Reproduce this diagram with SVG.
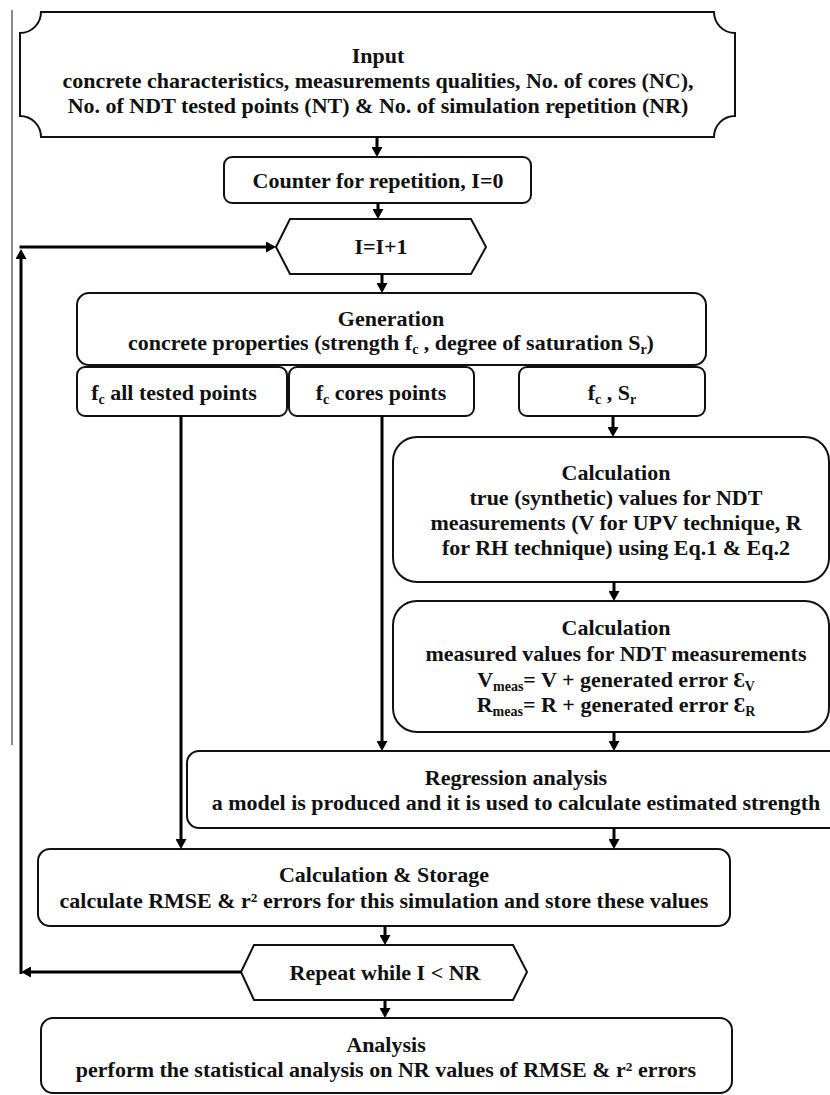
<svg xmlns="http://www.w3.org/2000/svg" width="830" height="1095" viewBox="0 0 830 1095">
<defs>
<style>
.box{fill:#fff;stroke:#111;stroke-width:2}
.t{font-family:"Liberation Serif","Times New Roman",serif;font-weight:bold;font-size:22px;fill:#111;text-anchor:middle}
.sub{font-size:14px}
.c{fill:none;stroke:#000;stroke-width:3}
</style>
<marker id="ah" markerUnits="userSpaceOnUse" markerWidth="10" markerHeight="11" viewBox="0 0 10 11" refX="1" refY="5.5" orient="auto">
<path d="M0,0 L10,5.5 L0,11 Z" fill="#000"/>
</marker>
</defs>
<rect width="830" height="1095" fill="#fff"/>
<line x1="12" y1="10" x2="12" y2="745" stroke="#8a8a8a" stroke-width="2"/>

<g id="input">
<path class="box" d="M41,12 H714 A21,21 0 0 0 735,33 V116 A21,21 0 0 0 714,137 H41 A21,21 0 0 0 20,116 V33 A21,21 0 0 0 41,12 Z"/>
<text class="t" x="378" y="63">Input</text>
<text class="t" x="378" y="88">concrete characteristics, measurements qualities, No. of cores (NC),</text>
<text class="t" x="378" y="113">No. of NDT tested points (NT) &amp; No. of simulation repetition (NR)</text>
</g>
<g id="counter">
<rect class="box" x="224" y="157" width="307" height="46" rx="8"/>
<text class="t" x="378" y="188">Counter for repetition, I=0</text>
</g>
<g id="increment">
<polygon class="box" points="290,219 471,219 486,247 471,274 290,274 276,247"/>
<text class="t" x="381" y="254">I=I+1</text>
</g>
<g id="generation">
<rect class="box" x="77" y="293" width="629" height="72" rx="12"/>
<text class="t" x="391" y="326">Generation</text>
<text class="t" x="391" y="350">concrete properties (strength f<tspan class="sub" dy="4">c</tspan><tspan dy="-4"> , degree of saturation S</tspan><tspan class="sub" dy="4">r</tspan><tspan dy="-4">)</tspan></text>
</g>
<g id="fc-all">
<rect class="box" x="77" y="367" width="210" height="49" rx="8"/>
<text class="t" x="174" y="400">f<tspan class="sub" dy="4">c</tspan><tspan dy="-4"> all tested points</tspan></text>
</g>
<g id="fc-cores">
<rect class="box" x="289" y="367" width="185" height="49" rx="8"/>
<text class="t" x="381" y="400">f<tspan class="sub" dy="4">c</tspan><tspan dy="-4"> cores points</tspan></text>
</g>
<g id="fc-sr">
<rect class="box" x="519" y="367" width="186" height="49" rx="8"/>
<text class="t" x="612" y="400">f<tspan class="sub" dy="4">c</tspan><tspan dy="-4"> , S</tspan><tspan class="sub" dy="4">r</tspan></text>
</g>
<g id="calc-true">
<rect class="box" x="393" y="437" width="436" height="145" rx="24"/>
<text class="t" x="616" y="480">Calculation</text>
<text class="t" x="616" y="505">true (synthetic) values for NDT</text>
<text class="t" x="616" y="530">measurements (V for UPV technique, R</text>
<text class="t" x="616" y="555">for RH technique) using Eq.1 &amp; Eq.2</text>
</g>
<g id="calc-measured">
<rect class="box" x="393" y="601" width="436" height="131" rx="24"/>
<text class="t" x="616" y="635">Calculation</text>
<text class="t" x="616" y="661">measured values for NDT measurements</text>
<text class="t" x="616" y="687">V<tspan class="sub" dy="4">meas</tspan><tspan dy="-4">= V + generated error Ɛ</tspan><tspan class="sub" dy="4">V</tspan></text>
<text class="t" x="616" y="712">R<tspan class="sub" dy="4">meas</tspan><tspan dy="-4">= R + generated error Ɛ</tspan><tspan class="sub" dy="4">R</tspan></text>
</g>
<g id="regression">
<rect class="box" x="187" y="751" width="660" height="77" rx="12"/>
<text class="t" x="516" y="785">Regression analysis</text>
<text class="t" x="516" y="810">a model is produced and it is used to calculate estimated strength</text>
</g>
<g id="storage">
<rect class="box" x="38" y="849" width="692" height="77" rx="12"/>
<text class="t" x="384" y="882">Calculation &amp; Storage</text>
<text class="t" x="384" y="908">calculate RMSE &amp; r² errors for this simulation and store these values</text>
</g>
<g id="repeat">
<polygon class="box" points="254,945 513,945 527,972 513,1000 254,1000 241,972"/>
<text class="t" x="385" y="980">Repeat while I &lt; NR</text>
</g>
<g id="analysis">
<rect class="box" x="41" y="1018" width="691" height="75" rx="12"/>
<text class="t" x="386" y="1052">Analysis</text>
<text class="t" x="386" y="1077">perform the statistical analysis on NR values of RMSE &amp; r² errors</text>
</g>

<g id="connectors">
<line class="c" x1="377" y1="137" x2="377" y2="148" marker-end="url(#ah)"/>
<line class="c" x1="378" y1="203" x2="378" y2="210" marker-end="url(#ah)"/>
<line class="c" x1="382" y1="274" x2="382" y2="284" marker-end="url(#ah)"/>
<line class="c" x1="613" y1="416" x2="613" y2="428" marker-end="url(#ah)"/>
<line class="c" x1="614" y1="582" x2="614" y2="592" marker-end="url(#ah)"/>
<line class="c" x1="614" y1="732" x2="614" y2="742" marker-end="url(#ah)"/>
<line class="c" x1="382" y1="416" x2="382" y2="742" marker-end="url(#ah)"/>
<line class="c" x1="181" y1="416" x2="181" y2="840" marker-end="url(#ah)"/>
<line class="c" x1="614" y1="828" x2="614" y2="840" marker-end="url(#ah)"/>
<line class="c" x1="385" y1="926" x2="385" y2="936" marker-end="url(#ah)"/>
<line class="c" x1="385" y1="1000" x2="385" y2="1009" marker-end="url(#ah)"/>
<line class="c" x1="241" y1="972" x2="30" y2="972" marker-end="url(#ah)"/>
<line class="c" x1="21" y1="974" x2="21" y2="258" marker-end="url(#ah)"/>
<line class="c" x1="19.5" y1="247" x2="267" y2="247" marker-end="url(#ah)"/>
</g>
</svg>
